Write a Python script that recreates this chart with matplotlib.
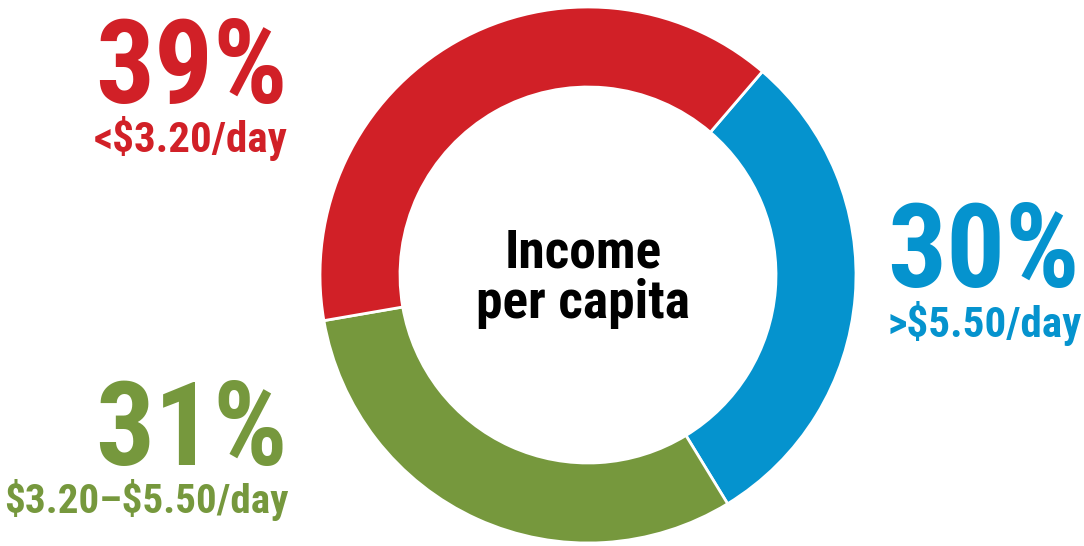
import matplotlib.pyplot as plt

# data
labels = ['>$5.50/day', '$3.20\u2013$5.50/day', '<$3.20/day']
shares = [30, 31, 39]
colors = ['#0593CE', '#76983D', '#D12027']

plt.rcParams['font.family'] = ['Roboto Condensed', 'DejaVu Sans']

W, H = 1084, 546
fig = plt.figure(figsize=(W / 100, H / 100), dpi=100)
ax = fig.add_axes([0, 0, 1, 1])

# donut ring, pixel coordinates (y up)
ax.pie(shares, colors=colors, startangle=49.4, counterclock=False,
       center=(588, H - 275), radius=268, frame=True,
       wedgeprops=dict(width=80, edgecolor='white', linewidth=2))
ax.set_xlim(0, W)
ax.set_ylim(0, H)
ax.set_aspect('equal')
ax.axis('off')

# percent labels
def big(x, y, s, c, ha):
    ax.text(x, H - y, s, color=c, fontsize=84, fontweight='bold', ha=ha, va='baseline',
            parse_math=False)

def small(x, y, s, c, ha, size=31):
    ax.text(x, H - y, s, color=c, fontsize=size, fontweight='bold', ha=ha, va='baseline',
            parse_math=False)

big(288, 103, '%d%%' % shares[2], colors[2], 'right')
small(288, 152, labels[2], colors[2], 'right')

big(288, 465, '%d%%' % shares[1], colors[1], 'right')
small(288, 513, labels[1], colors[1], 'right', size=29.5)

big(887, 287, '%d%%' % shares[0], colors[0], 'left')
small(887, 337, labels[0], colors[0], 'left')

# centre title
ax.text(583, H - 268, 'Income', fontsize=38.5, fontweight='bold', ha='center', va='baseline')
ax.text(583, H - 318, 'per capita', fontsize=38.5, fontweight='bold', ha='center', va='baseline')

fig.savefig('out.png', dpi=100)
